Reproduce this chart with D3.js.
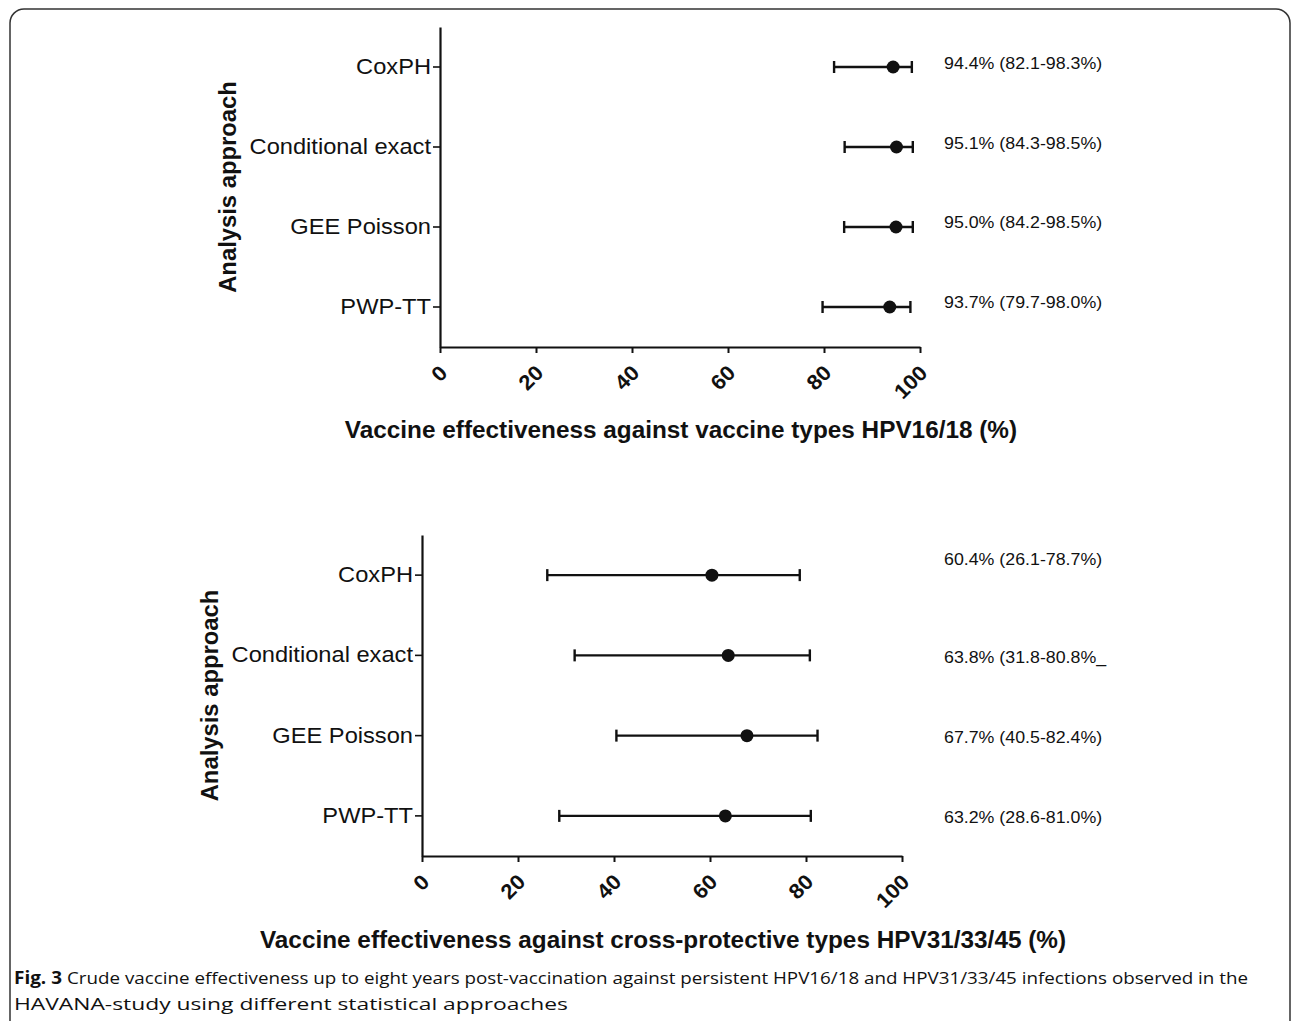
<html>
<head>
<script src="https://d3js.org/d3.v7.min.js"></script>
<style>
  body { margin: 0; background: #fff; }
  text { font-family: Arial, "Liberation Sans", sans-serif; fill: #111; }
</style>
</head>
<body>
<script>
// data
var approaches = ["CoxPH", "Conditional exact", "GEE Poisson", "PWP-TT"];
var xTicks = [0, 20, 40, 60, 80, 100];

var ve1618 = [94.4, 95.1, 95.0, 93.7];
var lo1618 = [82.1, 84.3, 84.2, 79.7];
var hi1618 = [98.3, 98.5, 98.5, 98.0];
var lab1618 = ["94.4% (82.1-98.3%)", "95.1% (84.3-98.5%)", "95.0% (84.2-98.5%)", "93.7% (79.7-98.0%)"];

var ve3133 = [60.4, 63.8, 67.7, 63.2];
var lo3133 = [26.1, 31.8, 40.5, 28.6];
var hi3133 = [78.7, 80.8, 82.4, 81.0];
var lab3133 = ["60.4% (26.1-78.7%)", "63.8% (31.8-80.8%_", "67.7% (40.5-82.4%)", "63.2% (28.6-81.0%)"];

var W = 1292, H = 1021;
var svg = d3.select("body").append("svg")
    .attr("width", W)
    .attr("height", H);

// the original figure is a little wider than its fonts, so widen text a bit
function stretch(sel, k) {
  sel.each(function() {
    var len = this.getComputedTextLength();
    d3.select(this)
      .attr("textLength", len * k)
      .attr("lengthAdjust", "spacingAndGlyphs");
  });
}

// rounded frame round the figure
svg.append("rect")
    .attr("x", 10).attr("y", 9)
    .attr("width", 1280).attr("height", 1040)
    .attr("rx", 14)
    .attr("fill", "none")
    .attr("stroke", "#333")
    .attr("stroke-width", 1.5);

function panel(p) {
  var g = svg.append("g");

  var x = d3.scaleLinear().domain([0, 100]).range([p.x0, p.x0 + 480]);
  var y = d3.scaleBand().domain(approaches).range([p.top, p.bottom]);
  var yc = function(d) { return y(d) + y.bandwidth() / 2; };

  // y axis
  var ya = g.append("g")
      .attr("transform", "translate(" + p.x0 + ",0)")
      .call(d3.axisLeft(y).tickSizeOuter(0).tickSizeInner(7).tickPadding(2));
  ya.select(".domain").attr("stroke", "#111").attr("stroke-width", 2.2);
  ya.selectAll(".tick line").attr("stroke", "#111").attr("stroke-width", 1.6);
  ya.selectAll(".tick text")
      .style("font-size", "22px")
      .attr("fill", "#111")
      .call(stretch, 1.075);

  // x axis
  var xa = g.append("g")
      .attr("transform", "translate(0," + p.bottom + ")")
      .call(d3.axisBottom(x).tickValues(xTicks).tickSizeOuter(0).tickSizeInner(6));
  xa.select(".domain").attr("stroke", "#111").attr("stroke-width", 2.2);
  xa.selectAll(".tick line").attr("stroke", "#111").attr("stroke-width", 2);
  xa.selectAll(".tick text")
      .attr("x", 0).attr("y", 0).attr("dy", "0.35em")
      .attr("transform", "translate(3,22) rotate(-45)")
      .attr("text-anchor", "end")
      .style("font-size", "21px")
      .style("font-weight", "bold")
      .attr("fill", "#111")
      .call(stretch, 1.05);

  // axis titles
  g.append("text")
      .attr("transform", "translate(" + p.ytx + "," + ((p.top + p.bottom) / 2) + ") rotate(-90)")
      .attr("text-anchor", "middle")
      .attr("dy", "0.35em")
      .style("font-size", "23px")
      .style("font-weight", "bold")
      .text("Analysis approach")
      .call(stretch, 1.035);

  g.append("text")
      .attr("x", p.xtx).attr("y", p.xty)
      .attr("text-anchor", "middle")
      .style("font-size", "23px")
      .style("font-weight", "bold")
      .text(p.xtitle)
      .call(stretch, 1.058);

  var rows = approaches.map(function(a, i) {
    return { a: a, ve: p.ve[i], lo: p.lo[i], hi: p.hi[i], lab: p.lab[i], dy: p.labDy[i] };
  });

  // error bars
  g.selectAll(".ci").data(rows).enter().append("line")
      .attr("x1", d => x(d.lo)).attr("x2", d => x(d.hi))
      .attr("y1", d => yc(d.a)).attr("y2", d => yc(d.a))
      .attr("stroke", "#111").attr("stroke-width", 2.4);
  g.selectAll(".capl").data(rows).enter().append("line")
      .attr("x1", d => x(d.lo)).attr("x2", d => x(d.lo))
      .attr("y1", d => yc(d.a) - 6).attr("y2", d => yc(d.a) + 6)
      .attr("stroke", "#111").attr("stroke-width", 2.4);
  g.selectAll(".caph").data(rows).enter().append("line")
      .attr("x1", d => x(d.hi)).attr("x2", d => x(d.hi))
      .attr("y1", d => yc(d.a) - 6).attr("y2", d => yc(d.a) + 6)
      .attr("stroke", "#111").attr("stroke-width", 2.4);

  g.selectAll(".pt").data(rows).enter().append("circle")
      .attr("cx", d => x(d.ve))
      .attr("cy", d => yc(d.a))
      .attr("r", 6.5)
      .attr("fill", "#111");

  g.selectAll(".lab").data(rows).enter().append("text")
      .attr("x", 944)
      .attr("y", d => yc(d.a) + d.dy)
      .attr("dy", "0.35em")
      .style("font-size", "17px")
      .text(d => d.lab)
      .call(stretch, 1.046);
}

panel({ x0: 440, top: 27, bottom: 347, ve: ve1618, lo: lo1618, hi: hi1618, lab: lab1618,
        labDy: [-4, -4, -5, -5], ytx: 228, xtx: 681, xty: 438,
        xtitle: "Vaccine effectiveness against vaccine types HPV16/18 (%)" });

panel({ x0: 422, top: 535, bottom: 856, ve: ve3133, lo: lo3133, hi: hi3133, lab: lab3133,
        labDy: [-16, 2, 1, 1], ytx: 210, xtx: 663, xty: 948,
        xtitle: "Vaccine effectiveness against cross-protective types HPV31/33/45 (%)" });

// caption
var cap = svg.append("g");
cap.append("text")
    .attr("x", 14).attr("y", 984)
    .style("font-size", "17px").style("font-weight", "bold")
    .style("font-family", "'Open Sans', sans-serif")
    .attr("textLength", 48).attr("lengthAdjust", "spacingAndGlyphs")
    .text("Fig. 3");
cap.append("text")
    .attr("x", 67).attr("y", 984)
    .style("font-size", "17px")
    .style("font-family", "'Open Sans', sans-serif")
    .attr("fill", "#222")
    .attr("textLength", 1181).attr("lengthAdjust", "spacingAndGlyphs")
    .text("Crude vaccine effectiveness up to eight years post-vaccination against persistent HPV16/18 and HPV31/33/45 infections observed in the");
cap.append("text")
    .attr("x", 14).attr("y", 1010)
    .style("font-size", "17px")
    .style("font-family", "'Open Sans', sans-serif")
    .attr("fill", "#222")
    .attr("textLength", 554).attr("lengthAdjust", "spacingAndGlyphs")
    .text("HAVANA-study using different statistical approaches");
</script>
</body>
</html>
